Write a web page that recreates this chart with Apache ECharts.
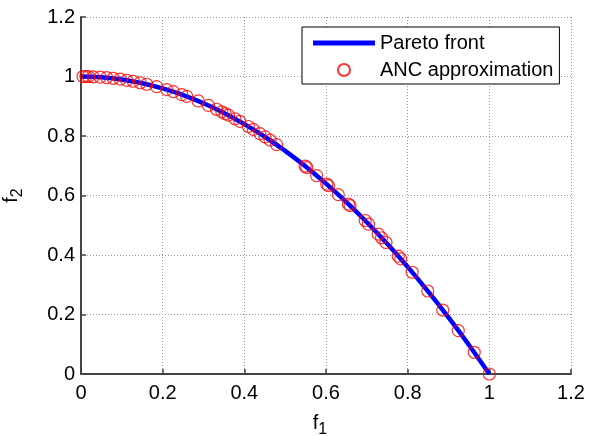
<!DOCTYPE html>
<html>
<head>
<meta charset="utf-8">
<script src="https://cdn.jsdelivr.net/npm/echarts@6/dist/echarts.min.js"></script>
<style>
  html, body { margin: 0; padding: 0; background: #fff; }
  #chart { width: 595px; height: 436px; }
</style>
</head>
<body>
<div id="chart"></div>
<script>
// Pareto front (f1, f2)
const frontF1 = [0, 0.05, 0.1, 0.15, 0.2, 0.25, 0.3, 0.35, 0.4, 0.45, 0.5, 0.55, 0.6, 0.65, 0.7, 0.75, 0.8, 0.85, 0.9, 0.95, 1.0];
const frontF2 = [1, 0.9975, 0.99, 0.9775, 0.96, 0.9375, 0.91, 0.8775, 0.84, 0.7975, 0.75, 0.6975, 0.64, 0.5775, 0.51, 0.4375, 0.36, 0.2775, 0.19, 0.0975, 0];

// ANC approximation points
const ancF1 = [0.005, 0.012, 0.018, 0.030, 0.047, 0.063, 0.079, 0.096, 0.112, 0.128, 0.145, 0.161, 0.185, 0.210, 0.226, 0.247,
  0.259, 0.287, 0.312, 0.332, 0.345, 0.353, 0.361, 0.377, 0.389, 0.410, 0.422, 0.438, 0.451, 0.463, 0.479, 0.549,
  0.553, 0.577, 0.602, 0.606, 0.630, 0.655, 0.659, 0.696, 0.704, 0.728, 0.736, 0.747, 0.777, 0.783, 0.811, 0.849,
  0.886, 0.924, 0.963, 1.000];
const ancF2 = [1.000, 1.000, 1.000, 0.999, 0.998, 0.996, 0.994, 0.991, 0.987, 0.984, 0.979, 0.974, 0.966, 0.956, 0.949, 0.939,
  0.933, 0.918, 0.903, 0.890, 0.881, 0.875, 0.870, 0.858, 0.849, 0.832, 0.822, 0.808, 0.797, 0.786, 0.771, 0.699,
  0.694, 0.667, 0.638, 0.633, 0.603, 0.571, 0.566, 0.516, 0.504, 0.470, 0.458, 0.442, 0.396, 0.387, 0.342, 0.279,
  0.215, 0.146, 0.073, 0.000];

const seriesNames = ['Pareto front', 'ANC approximation'];

const font = 'Liberation Sans, Arial, sans-serif';
const axisColor = '#444';

const chart = echarts.init(document.getElementById('chart'));

const nameRich = {
  m: { fontSize: 20, fontFamily: font, color: '#000' },
  s: { fontSize: 16, fontFamily: font, color: '#000', padding: [14, 0, 0, 0] }
};

const axisCommon = {
  type: 'value',
  min: 0,
  max: 1.2,
  interval: 0.2,
  nameLocation: 'middle',
  axisLine: { show: true, lineStyle: { color: axisColor, width: 2 } },
  axisTick: { show: true, inside: true, length: 5, lineStyle: { color: axisColor, width: 1.5 } },
  axisLabel: { color: '#000', fontSize: 20, fontFamily: font },
  splitLine: { show: true, lineStyle: { color: '#999', type: [1, 2], width: 1 } }
};

chart.setOption({
  animation: false,
  backgroundColor: '#fff',
  grid: { left: 81, right: 24, top: 17, bottom: 62, containLabel: false, outerBoundsMode: 'none' },
  legend: {
    data: [
      { name: seriesNames[0], icon: 'path://M0,0L62,0L62,5L0,5Z' },
      { name: seriesNames[1] }
    ],
    orient: 'vertical',
    left: 302,
    top: 27,
    padding: [5, 6, 3, 11],
    itemGap: 5,
    itemWidth: 62,
    itemHeight: 12,
    backgroundColor: '#fff',
    borderColor: '#000',
    borderWidth: 1,
    borderRadius: 0,
    textStyle: { color: '#000', fontSize: 20, fontFamily: font, lineHeight: 22 }
  },
  xAxis: Object.assign({}, axisCommon, {
    name: '{m|f}{s|1}',
    nameGap: 34,
    nameTextStyle: { rich: nameRich, padding: [0, 12, 0, 0] },
    axisLabel: Object.assign({}, axisCommon.axisLabel, { margin: 9 })
  }),
  yAxis: Object.assign({}, axisCommon, {
    name: '{m|f}{s|2}',
    nameGap: 55,
    nameRotate: 90,
    nameTextStyle: { rich: nameRich },
    axisLabel: Object.assign({}, axisCommon.axisLabel, { margin: 6 })
  }),
  series: [
    {
      name: seriesNames[0],
      type: 'line',
      smooth: true,
      symbol: 'none',
      data: frontF1.map((x, i) => [x, frontF2[i]]),
      lineStyle: { color: '#0000ff', width: 4.5 },
      itemStyle: { color: '#0000ff' },
      z: 2
    },
    {
      name: seriesNames[1],
      type: 'scatter',
      symbol: 'circle',
      symbolSize: 12,
      data: ancF1.map((x, i) => [x, ancF2[i]]),
      itemStyle: { color: 'rgba(0,0,0,0)', borderColor: '#ff0000', borderWidth: 1.2 },
      z: 3
    }
  ]
});
</script>
</body>
</html>
